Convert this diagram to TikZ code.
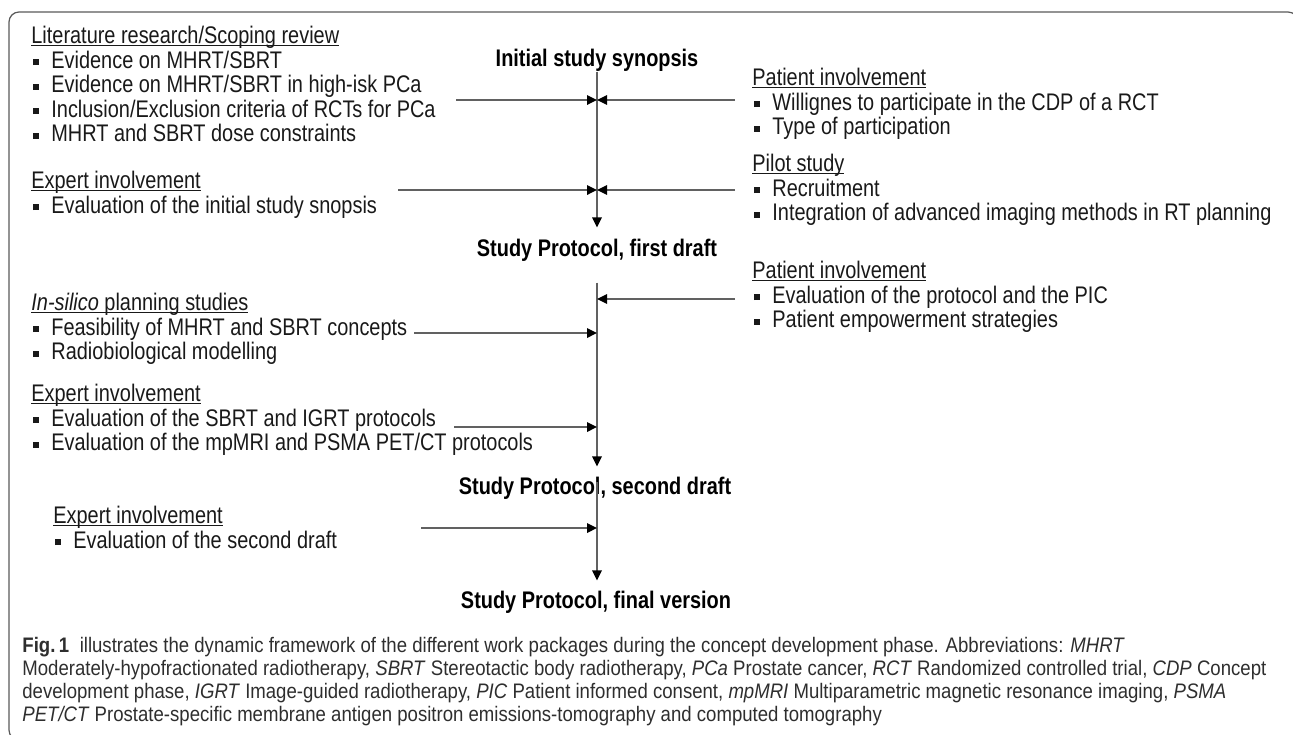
\documentclass[tikz,border=0pt]{standalone}
\usepackage{fontspec}
\setmainfont[FakeStretch=0.83]{Liberation Sans}
\newfontfamily\capfont[FakeStretch=0.885]{Liberation Sans}
\usetikzlibrary{arrows.meta}
\newcommand{\itm}{\makebox[10pt][l]{\hspace{0.6pt}\raisebox{1.6pt}{\rule{3pt}{3pt}}}}
\newcommand{\hd}[1]{\setbox0\hbox{#1}\rlap{\rule[-1.3pt]{\wd0}{0.5pt}}\box0}

\begin{document}
\begin{tikzpicture}[x=0.5pt,y=-0.5pt,
	blk/.style={anchor=north west,inner sep=0pt,align=left,text=black!90,font=\fontsize{12}{12.25}\selectfont},
	ttl/.style={inner sep=0pt,font=\fontsize{12}{14}\selectfont\bfseries},
	flow/.style={draw=black!62,line width=0.7pt,-{Triangle[length=5pt,width=4.8pt,color=black]}},
	frm/.style={draw=black!65,line width=0.6pt,rounded corners=5pt}]
	\useasboundingbox (0,0) rectangle (1293,734);
	\draw[frm] (9,12) rectangle (1298,740);

	\node[ttl] (synopsis) at (597,60) {Initial study synopsis};
	\node[ttl] (draft1) at (597,250) {Study Protocol, first draft};
	\node[ttl] (draft2) at (595,488) {Study Protocol, second draft};
	\node[ttl] (final) at (596,602) {Study Protocol, final version};

	\node[blk] (litrev) at (31,26) {\hd{Literature research/Scoping review}\\
		\itm Evidence on MHRT/SBRT\\
		\itm Evidence on MHRT/SBRT in high-isk PCa\\
		\itm Inclusion/Exclusion criteria of RCTs for PCa\\
		\itm MHRT and SBRT dose constraints};
	\node[blk] (expert1) at (31,171) {\hd{Expert involvement}\\
		\itm Evaluation of the initial study snopsis};
	\node[blk] (patient1) at (752,68) {\hd{Patient involvement}\\
		\itm Willignes to participate in the CDP of a RCT\\
		\itm Type of participation};
	\node[blk] (pilot) at (752,154) {\hd{Pilot study}\\
		\itm Recruitment\\
		\itm Integration of advanced imaging methods in RT planning};
	\node[blk] (insilico) at (31,293) {\hd{\textit{In-silico} planning studies}\\
		\itm Feasibility of MHRT and SBRT concepts\\
		\itm Radiobiological modelling};
	\node[blk] (expert2) at (31,384) {\hd{Expert involvement}\\
		\itm Evaluation of the SBRT and IGRT protocols\\
		\itm Evaluation of the mpMRI and PSMA PET/CT protocols};
	\node[blk] (patient2) at (752,261) {\hd{Patient involvement}\\
		\itm Evaluation of the protocol and the PIC\\
		\itm Patient empowerment strategies};
	\node[blk] (expert3) at (53,506) {\hd{Expert involvement}\\
		\itm Evaluation of the second draft};

	\coordinate (m1) at (597,100);
	\coordinate (m2) at (597,190);
	\coordinate (m3) at (597,299);
	\coordinate (m4) at (597,333);
	\coordinate (m5) at (597,427);
	\coordinate (m6) at (597,528);
	\coordinate (l1) at (456,100);
	\coordinate (l2) at (398,190);
	\coordinate (l4) at (414,333);
	\coordinate (l5) at (454,427);
	\coordinate (l6) at (421,528);
	\coordinate (r1) at (735,100);
	\coordinate (r2) at (735,190);
	\coordinate (r3) at (735,299);

	\draw[flow] (synopsis.south -| m1) -- ([yshift=5.5pt]draft1.north -| m1);
	\draw[flow] ([yshift=-10.5pt]draft1.south -| m1) -- ([yshift=5pt]draft2.north -| m1);
	\draw[flow] ([yshift=-3pt]draft2.north -| m1) -- ([yshift=5pt]final.north -| m1);
	\draw[flow] (l1) -- (m1);
	\draw[flow] (r1) -- (m1);
	\draw[flow] (l2) -- (m2);
	\draw[flow] (r2) -- (m2);
	\draw[flow] (r3) -- (m3);
	\draw[flow] (l4) -- (m4);
	\draw[flow] (l5) -- (m5);
	\draw[flow] (l6) -- (m6);

	\node[anchor=north west,inner sep=0pt,align=left,text=black!82,
		font=\capfont\fontsize{10.5}{11.5}\selectfont] (caption) at (22,637)
		{\textbf{Fig.\,1}\enspace illustrates the dynamic framework of the different work packages during the concept development phase. Abbreviations: \textit{MHRT}\\
		Moderately-hypofractionated radiotherapy, \textit{SBRT} Stereotactic body radiotherapy, \textit{PCa} Prostate cancer, \textit{RCT} Randomized controlled trial, \textit{CDP} Concept\\
		development phase, \textit{IGRT} Image-guided radiotherapy, \textit{PIC} Patient informed consent, \textit{mpMRI} Multiparametric magnetic resonance imaging, \textit{PSMA}\\
		\textit{PET/CT} Prostate-specific membrane antigen positron emissions-tomography and computed tomography};
\end{tikzpicture}
\end{document}
